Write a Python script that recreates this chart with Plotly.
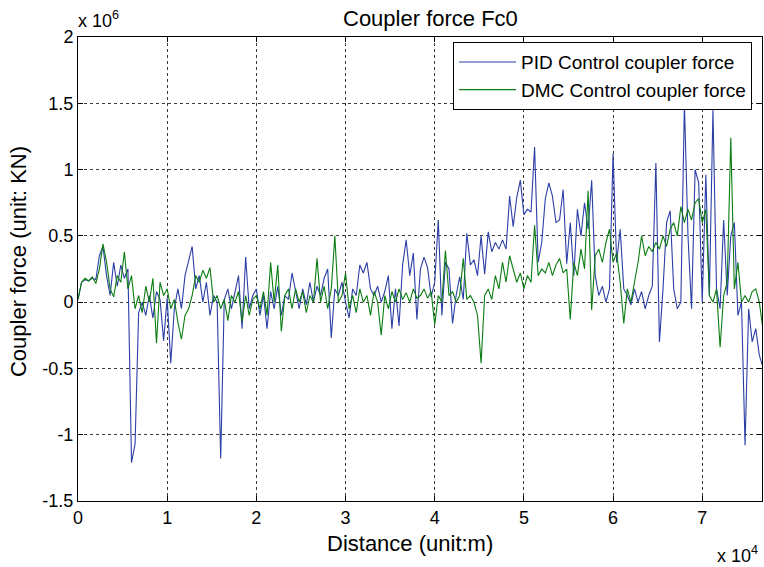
import numpy as np
import plotly.graph_objects as go

# Sampling grid: distance in metres (one sample every 400 m)
distance_step_m = 400
n_samples = 193

# Coupler force, in units of 10^6
pid_force = [
    0.02, 0.15, 0.17, 0.16, 0.18, 0.17, 0.35, 0.42, 0.20, 0.05,
    0.30, 0.12, 0.28, 0.18, 0.25, -1.21, -1.07, -0.08, 0.00, -0.10,
    0.05, -0.12, 0.08, 0.02, -0.29, 0.03, -0.46, -0.05, 0.10, -0.05,
    0.20, 0.30, 0.42, 0.10, 0.20, 0.00, 0.15, -0.10, 0.05, 0.00,
    -1.18, 0.02, 0.10, -0.05, 0.08, 0.20, -0.20, 0.34, -0.05, 0.05,
    0.10, -0.10, 0.05, -0.20, 0.08, -0.05, 0.12, -0.10, 0.05, 0.02,
    0.22, 0.08, -0.05, 0.10, -0.02, 0.15, 0.00, 0.12, 0.05, 0.18,
    0.25, -0.27, 0.10, 0.05, 0.15, 0.00, -0.12, 0.10, 0.05, 0.28,
    0.22, 0.30, 0.10, 0.05, 0.12, 0.00, 0.08, 0.20, -0.20, 0.10,
    -0.18, 0.28, 0.47, 0.20, 0.37, -0.13, 0.25, 0.34, 0.26, 0.04,
    0.15, 0.62, -0.10, 0.30, 0.25, -0.16, 0.05, 0.19, 0.02, 0.52,
    0.28, 0.32, 0.20, 0.50, 0.21, 0.53, 0.38, 0.45, 0.40, 0.47,
    0.40, 0.80, 0.57, 0.79, 0.92, 0.66, 0.70, 0.68, 1.17, 0.30,
    0.45, 0.78, 0.90, 0.80, 0.60, 0.62, 0.85, 0.29, 0.60, 0.20,
    0.70, 0.50, 0.75, 0.55, 0.92, 0.20, 0.05, 0.12, 0.00, 0.10,
    1.12, 0.30, 0.55, 0.10, 0.05, -0.02, 0.10, 0.00, 0.08, -0.05,
    0.05, 0.12, 1.05, -0.30, 0.10, 0.60, 0.69, 0.10, -0.05, 0.00,
    1.50, 0.50, -0.05, 1.00, 0.90, 0.00, 0.96, 0.05, 1.45, 0.10,
    -0.05, 0.62, 0.05, 0.50, 0.60, -0.10, 0.00, -1.08, -0.05, -0.30,
    -0.20, -0.40, -0.49,
]

dmc_force = [
    0.02, 0.15, 0.18, 0.16, 0.19, 0.14, 0.25, 0.44, 0.30, 0.10,
    0.04, 0.20, 0.15, 0.38, 0.10, 0.20, -0.05, 0.05, -0.08, 0.12,
    0.00, 0.18, -0.31, 0.15, 0.05, 0.10, -0.05, 0.02, -0.15, -0.28,
    -0.10, -0.05, 0.05, 0.20, 0.15, 0.24, 0.18, 0.26, 0.00, 0.05,
    -0.05, 0.02, -0.14, 0.05, 0.00, 0.08, -0.15, 0.05, -0.10, 0.02,
    0.05, -0.05, 0.08, -0.10, 0.30, 0.00, 0.28, -0.22, 0.05, 0.10,
    -0.05, 0.10, 0.00, 0.08, -0.08, 0.05, 0.00, 0.33, 0.00, 0.12,
    -0.05, 0.10, 0.50, 0.00, 0.05, 0.22, -0.05, 0.05, -0.08, 0.10,
    0.00, 0.05, -0.10, 0.08, 0.00, -0.25, 0.05, -0.05, 0.08, 0.00,
    0.10, 0.02, 0.07, 0.00, 0.10, 0.03, 0.05, 0.10, 0.03, 0.08,
    -0.17, 0.05, 0.00, 0.39, 0.05, 0.08, 0.00, 0.05, 0.33, 0.02,
    0.05, 0.00, -0.10, -0.46, 0.05, 0.10, 0.02, 0.20, 0.10, 0.30,
    0.15, 0.35, 0.25, 0.15, 0.22, 0.10, 0.20, 0.15, 0.58, 0.20,
    0.25, 0.22, 0.30, 0.20, 0.28, 0.33, 0.22, 0.25, -0.13, 0.30,
    0.20, 0.40, 0.25, 0.84, -0.06, 0.35, 0.40, 0.30, 0.45, 0.55,
    0.30, 0.37, 0.15, -0.16, 0.10, 0.00, 0.15, 0.30, 0.50, 0.35,
    0.42, 0.38, 0.45, 0.40, 0.50, 0.42, 0.55, 0.60, 0.50, 0.72,
    0.60, 0.70, 0.62, 0.75, 0.78, 0.60, 0.70, 0.05, 0.00, 0.10,
    -0.34, 0.05, 0.15, 1.24, 0.10, 0.30, 0.00, 0.05, 0.00, 0.08,
    0.10, 0.00, -0.20,
]

x_tick_vals = [0, 10000, 20000, 30000, 40000, 50000, 60000, 70000]
x_tick_text = ["0", "1", "2", "3", "4", "5", "6", "7"]
y_tick_vals = [-1.5e6, -1e6, -0.5e6, 0, 0.5e6, 1e6, 1.5e6, 2e6]
y_tick_text = ["-1.5", "-1", "-0.5", "0", "0.5", "1", "1.5", "2"]

distance = np.arange(n_samples) * distance_step_m
pid = np.array(pid_force) * 1e6
dmc = np.array(dmc_force) * 1e6

FONT = "Liberation Sans, Arial, Helvetica, sans-serif"

fig = go.Figure()
fig.add_trace(go.Scatter(x=distance, y=pid, mode="lines",
                         name="PID Control coupler force",
                         line=dict(color="#2c3fa6", width=1.1)))
fig.add_trace(go.Scatter(x=distance, y=dmc, mode="lines",
                         name="DMC Control coupler force",
                         line=dict(color="#0b7d12", width=1.1)))

axis_common = dict(
    showline=True, linecolor="black", linewidth=1, mirror="allticks",
    ticks="inside", ticklen=5, tickcolor="black",
    showgrid=True, gridcolor="#3a3a3a", gridwidth=1, griddash="dot",
    zeroline=False, tickfont=dict(family=FONT, size=18, color="black"),
)

fig.update_xaxes(range=[0, 76700], tickvals=x_tick_vals, ticktext=x_tick_text,
                 **axis_common)
fig.update_yaxes(range=[-1.5e6, 2e6], tickvals=y_tick_vals, ticktext=y_tick_text,
                 **axis_common)

fig.update_layout(
    width=764, height=567,
    margin=dict(l=78, r=2, t=37, b=66),
    paper_bgcolor="white", plot_bgcolor="white",
    showlegend=True,
    legend=dict(x=0.9854, y=0.989, xanchor="right", yanchor="top",
                bgcolor="white", bordercolor="black", borderwidth=1,
                font=dict(family=FONT, size=19, color="black"),
                itemwidth=57, tracegroupgap=0),
    annotations=[
        dict(text="Coupler force Fc0", xref="paper", yref="paper",
             x=0.5, y=1, xshift=10, yshift=-19, yref2=None,
             xanchor="center", yanchor="middle",
             showarrow=False, font=dict(family=FONT, size=22, color="black"))
        if False else
        dict(text="Coupler force Fc0", xref="paper", yref="paper",
             x=0.5, y=1, xshift=10, yshift=19, xanchor="center", yanchor="middle",
             showarrow=False, font=dict(family=FONT, size=22, color="black")),
        dict(text="Distance (unit:m)", xref="paper", yref="paper",
             x=0.5, y=0, xshift=-10, yshift=-42, xanchor="center", yanchor="middle",
             showarrow=False, font=dict(family=FONT, size=22, color="black")),
        dict(text="Coupler force (unit: KN)", xref="paper", yref="paper",
             x=0, y=0.515, xshift=-60, textangle=-90, xanchor="center",
             yanchor="middle", showarrow=False,
             font=dict(family=FONT, size=22, color="black")),
        dict(text="x 10<sup>6</sup>", xref="paper", yref="paper",
             x=0, y=1, xshift=-2, yshift=4, xanchor="left", yanchor="bottom",
             showarrow=False, font=dict(family=FONT, size=18, color="black")),
        dict(text="x 10<sup>4</sup>", xref="paper", yref="paper",
             x=1, y=0, xshift=-2, yshift=-40, xanchor="right", yanchor="top",
             showarrow=False, font=dict(family=FONT, size=18, color="black")),
    ],
)

fig.write_html("out.html")
